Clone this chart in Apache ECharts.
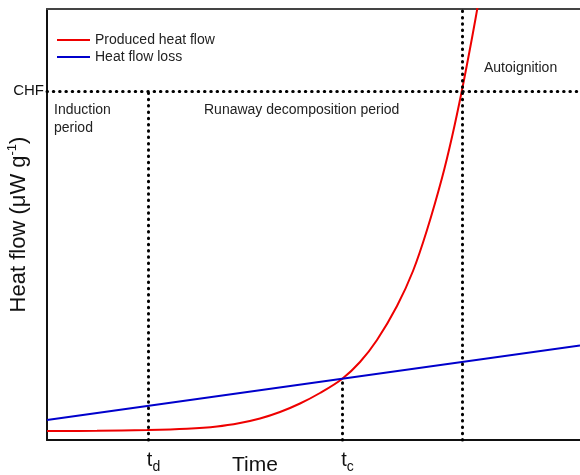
<!DOCTYPE html>
<html>
<head>
<meta charset="utf-8">
<script src="https://cdn.jsdelivr.net/npm/echarts@6/dist/echarts.min.js"></script>
<style>
  html, body { margin: 0; padding: 0; background: #fff; }
  #chart { width: 580px; height: 475px; }
</style>
</head>
<body>
<div id="chart"></div>
<script>
// Schematic heat-balance curves (arbitrary units)
const producedX = [0, 50, 100, 140, 170, 193, 213, 233, 253, 273, 295, 313, 330, 350, 366, 380, 395, 405, 415, 425, 432, 440];
const producedY = [9, 9.2, 10, 11.3, 13.5, 17, 21.5, 28, 36.5, 47, 61, 78, 100, 134, 169, 210, 262, 303, 350, 402, 441, 488];
const lossX = [0, 533];
const lossY = [20, 94.5];

// Characteristic times and critical heat flow
const tdX = 101;
const tcX = 295;
const ignitionX = 415;
const chfY = 349;
const xMax = 533;
const yMax = 431;

const seriesNames = ['Produced heat flow', 'Heat flow loss'];
const font = '"Liberation Sans", Arial, Helvetica, sans-serif';

const chart = echarts.init(document.getElementById('chart'));

const dotted = { color: '#000', width: 3, type: [0.5, 5.8], cap: 'round' };
const lossAt = x => lossY[0] + (lossY[1] - lossY[0]) * (x - lossX[0]) / (lossX[1] - lossX[0]);

chart.setOption({
  animation: false,
  textStyle: { fontFamily: font },
  grid: { left: 47, top: 9, right: 0, bottom: 35, outerBoundsMode: 'none', containLabel: false },
  legend: {
    left: 57, top: 33, orient: 'vertical', itemGap: 3, padding: 0,
    icon: 'rect', itemWidth: 33, itemHeight: 2,
    textStyle: { fontSize: 14, color: '#222', fontFamily: font },
    data: seriesNames
  },
  xAxis: [{
    type: 'value', min: 0, max: xMax,
    axisLine: { show: true, lineStyle: { color: '#111', width: 2 } },
    axisTick: { show: false }, splitLine: { show: false },
    axisLabel: {
      customValues: [tdX, tcX], margin: 6,
      formatter: v => v === tdX ? '{t|t}{s|d}' : '{t|t}{s|c}',
      rich: {
        t: { fontSize: 20, color: '#111', fontFamily: font, padding: [0, 0, 0, 11] },
        s: { fontSize: 14, color: '#111', fontFamily: font, padding: [14, 0, 0, 0] }
      }
    }
  }, {
    type: 'value', min: 0, max: xMax, position: 'top',
    axisLine: { show: true, lineStyle: { color: '#444', width: 2 } },
    axisTick: { show: false }, axisLabel: { show: false }, splitLine: { show: false }
  }],
  yAxis: {
    type: 'value', min: 0, max: yMax,
    axisLine: { show: true, lineStyle: { color: '#111', width: 2 } },
    axisTick: { show: false }, splitLine: { show: false },
    axisLabel: {
      customValues: [chfY], margin: 3,
      formatter: () => 'CHF', fontSize: 15, color: '#111'
    },
    name: '{n|Heat flow (μW g}{sup|-1}{n|)}',
    nameLocation: 'middle', nameGap: 15, nameRotate: 90, nameMoveOverlap: false,
    nameTextStyle: {
      rich: {
        n: { fontSize: 22, color: '#111', fontFamily: font },
        sup: { fontSize: 13, color: '#111', fontFamily: font, padding: [0, 0, 13, 0] }
      }
    }
  },
  series: [{
    name: seriesNames[0], type: 'line',
    data: producedX.map((x, i) => [x, producedY[i]]),
    smooth: 0.35, showSymbol: false, clip: true,
    lineStyle: { color: '#ee0000', width: 2 }, itemStyle: { color: '#ee0000' },
    z: 3
  }, {
    name: seriesNames[1], type: 'line',
    data: lossX.map((x, i) => [x, lossY[i]]),
    showSymbol: false,
    lineStyle: { color: '#0000cc', width: 2 }, itemStyle: { color: '#0000cc' },
    z: 3,
    markLine: {
      silent: true, symbol: 'none', label: { show: false },
      lineStyle: dotted,
      data: [
        [{ coord: [tdX, 0] }, { coord: [tdX, chfY] }],
        [{ coord: [tcX, 0] }, { coord: [tcX, lossAt(tcX)] }],
        [{ coord: [ignitionX, 0] }, { coord: [ignitionX, yMax] }],
        [{ coord: [0, chfY] }, { coord: [xMax, chfY] }]
      ]
    }
  }],
  graphic: [
    { type: 'text', left: 54, top: 101, style: { text: 'Induction\nperiod', font: '14px ' + font, fill: '#222', lineHeight: 18 } },
    { type: 'text', left: 204, top: 103, style: { text: 'Runaway decomposition period', font: '14px ' + font, fill: '#222' } },
    { type: 'text', left: 484, top: 61, style: { text: 'Autoignition', font: '14px ' + font, fill: '#222' } },
    { type: 'text', left: 232, top: 455, style: { text: 'Time', font: '21px ' + font, fill: '#111' } }
  ]
});
</script>
</body>
</html>
